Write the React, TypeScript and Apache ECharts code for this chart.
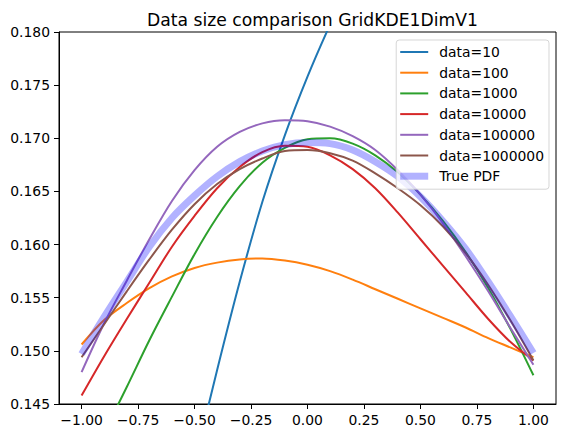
import React, { useEffect, useRef } from "react";
import * as echarts from "echarts";

// Shared x grid for the KDE estimates
const xs = [-1, -0.9, -0.8, -0.7, -0.6, -0.5, -0.4, -0.3, -0.2, -0.1, 0, 0.1, 0.2, 0.3, 0.4, 0.5, 0.6, 0.7, 0.8, 0.9, 1];

// data=10 only crosses the visible window near the centre
const xs10 = [-0.6, -0.5, -0.4, -0.3, -0.2, -0.1, 0, 0.1, 0.2];
const data10 = [0.13, 0.1394, 0.1482, 0.1565, 0.164, 0.1703, 0.1758, 0.1807, 0.1852];

const data100 = [0.1506, 0.1529, 0.1545, 0.1559, 0.157, 0.1578, 0.1583, 0.1586, 0.1587, 0.1585, 0.1581, 0.1575, 0.1567, 0.1558, 0.1549, 0.154, 0.1531, 0.1522, 0.1512, 0.1503, 0.1494];
const data1000 = [0.1378, 0.1423, 0.1466, 0.151, 0.1551, 0.1591, 0.1626, 0.1655, 0.1677, 0.1691, 0.1699, 0.17, 0.1695, 0.1684, 0.1668, 0.1647, 0.1622, 0.1593, 0.1559, 0.152, 0.1477];
const data10000 = [0.1458, 0.1495, 0.153, 0.1564, 0.1598, 0.1627, 0.1653, 0.1673, 0.1687, 0.1693, 0.1692, 0.1684, 0.1671, 0.1653, 0.163, 0.1605, 0.158, 0.1555, 0.153, 0.1508, 0.1491];
const data100000 = [0.148, 0.1526, 0.1566, 0.1605, 0.1641, 0.167, 0.1692, 0.1706, 0.1714, 0.1717, 0.1716, 0.1711, 0.1702, 0.1689, 0.167, 0.1647, 0.162, 0.1589, 0.1556, 0.1521, 0.1487];
const data1000000 = [0.1494, 0.1525, 0.1556, 0.1586, 0.1614, 0.1638, 0.1657, 0.1671, 0.1681, 0.1688, 0.1689, 0.1686, 0.1679, 0.1667, 0.1653, 0.1637, 0.1617, 0.1592, 0.1562, 0.1528, 0.1491];
const truePdf = [0.1497, 0.1532, 0.1565, 0.1598, 0.1625, 0.1646, 0.1664, 0.1678, 0.1688, 0.1694, 0.1696, 0.1695, 0.1689, 0.1678, 0.1664, 0.1645, 0.1622, 0.1596, 0.1565, 0.1532, 0.1498];

const xTicks = [-1, -0.75, -0.5, -0.25, 0, 0.25, 0.5, 0.75, 1];
const yTicks = [0.145, 0.15, 0.155, 0.16, 0.165, 0.17, 0.175, 0.18];

const FONT = "DejaVu Sans";

// Legend handles: a 28x14 box holding a horizontal bar (the leading moves pin the box size)
const THIN_HANDLE = "path://M0,0M28,0M28,14M0,14M0,6h28v2h-28z";
const THICK_HANDLE = "path://M0,0M28,0M28,14M0,14M0,3.5h28v7h-28z";

const pairs = (x: number[], y: number[]) => x.map((v, i) => [v, y[i]]);

const lineSeries = (name: string, x: number[], y: number[], color: string, width = 2) => ({
  name,
  type: "line",
  data: pairs(x, y),
  symbol: "none",
  smooth: 0.33,
  clip: true,
  lineStyle: { color, width },
  itemStyle: { color },
});

export default function App() {
  const ref = useRef<HTMLDivElement>(null);

  useEffect(() => {
    if (!ref.current) return;
    const chart = echarts.init(ref.current, undefined, { renderer: "svg" });
    const minus = (v: number, d: number) => (v < 0 ? "\u2212" : "") + Math.abs(v).toFixed(d);

    const names = ["data=10", "data=100", "data=1000", "data=10000", "data=100000", "data=1000000", "True PDF"];

    chart.setOption({
      animation: false,
      backgroundColor: "#fff",
      title: {
        text: "Data size comparison GridKDE1DimV1",
        left: 307.5,
        top: 6,
        textAlign: "center",
        textStyle: { fontFamily: FONT, fontSize: 17.2, fontWeight: "normal", color: "#000" },
      },
      grid: {
        left: 59,
        right: 9,
        top: 32,
        bottom: 31,
        show: true,
        borderColor: "#000",
        borderWidth: 1,
        backgroundColor: "transparent",
      },
      legend: {
        orient: "vertical",
        right: 16,
        top: 40,
        itemWidth: 28,
        itemHeight: 14,
        itemGap: 6.7,
        padding: [5, 5, 6, 4],
        backgroundColor: "rgba(255,255,255,0.8)",
        borderColor: "rgba(204,204,204,0.8)",
        borderWidth: 1,
        borderRadius: 3,
        itemStyle: { borderWidth: 0 },
        textStyle: { fontFamily: FONT, fontSize: 13.9, color: "#000", padding: [0, 0, 0, 6] },
        data: names.map((n) => ({ name: n, icon: n === "True PDF" ? THICK_HANDLE : THIN_HANDLE })),
      },
      xAxis: {
        type: "value",
        min: -1.1,
        max: 1.1,
        splitLine: { show: false },
        axisLine: { show: true, onZero: false, lineStyle: { color: "#000", width: 1 } },
        axisTick: { show: true, length: 5, customValues: xTicks, lineStyle: { color: "#000", width: 1 } },
        axisLabel: {
          customValues: xTicks,
          margin: 9,
          fontFamily: FONT,
          fontSize: 13.9,
          color: "#000",
          formatter: (v: number) => minus(v, 2),
        },
      },
      yAxis: {
        type: "value",
        min: 0.145,
        max: 0.18,
        splitLine: { show: false },
        axisLine: { show: true, onZero: false, lineStyle: { color: "#000", width: 1 } },
        axisTick: { show: true, length: 5, customValues: yTicks, lineStyle: { color: "#000", width: 1 } },
        axisLabel: {
          customValues: yTicks,
          margin: 9,
          fontFamily: FONT,
          fontSize: 13.9,
          color: "#000",
          formatter: (v: number) => v.toFixed(3),
        },
      },
      series: [
        lineSeries("data=10", xs10, data10, "#1f77b4"),
        lineSeries("data=100", xs, data100, "#ff7f0e"),
        lineSeries("data=1000", xs, data1000, "#2ca02c"),
        lineSeries("data=10000", xs, data10000, "#d62728"),
        lineSeries("data=100000", xs, data100000, "#9467bd"),
        lineSeries("data=1000000", xs, data1000000, "#8c564b"),
        lineSeries("True PDF", xs, truePdf, "rgba(0,0,255,0.3)", 7),
      ],
    });

    return () => chart.dispose();
  }, []);

  return (
    <div
      ref={ref}
      style={{ position: "absolute", left: 0, top: 0, width: 565, height: 435 }}
    />
  );
}
